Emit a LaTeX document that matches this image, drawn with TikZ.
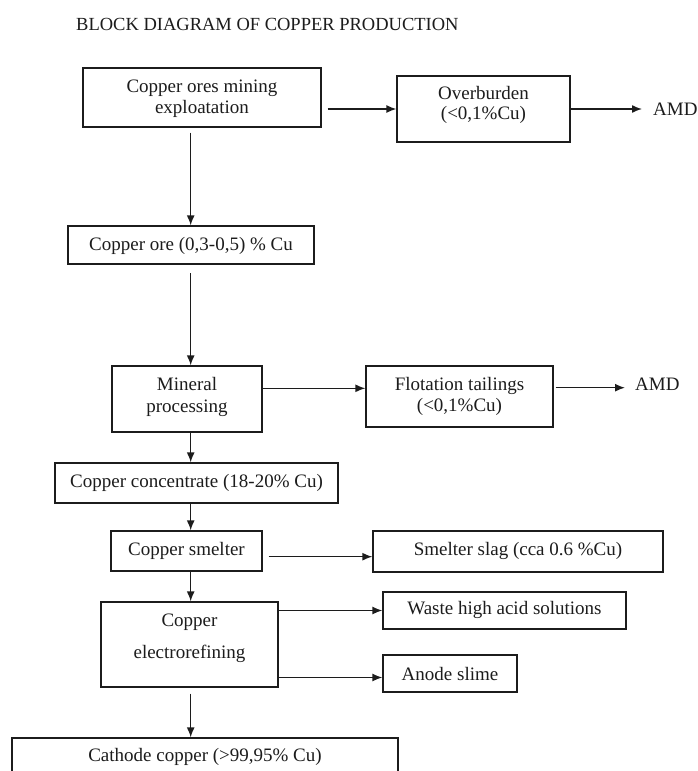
\documentclass[tikz,border=0pt]{standalone}
\usepackage{fontspec}
\setmainfont{Liberation Serif}
\usetikzlibrary{arrows.meta,calc}
\definecolor{ink}{HTML}{1C1C1C}
\begin{document}
\begin{tikzpicture}[x=1pt,y=-1pt,
  box/.style={draw=ink, line width=1.3pt, rectangle, inner sep=0pt},
  txt/.style={font=\fontsize{19}{21.5}\selectfont, text=ink, align=center, inner sep=0pt},
  arr/.style={draw=ink, line width=1.4pt, -{Latex[length=10pt,width=8pt]}}
]
\useasboundingbox (0,0) rectangle (698,771);
\clip (0,0) rectangle (698,771);
\fill[white] (0,0) rectangle (698,771);

\node[txt, font=\fontsize{18.5}{21}\selectfont, anchor=base west] (title) at (76,30.5) {BLOCK DIAGRAM OF COPPER PRODUCTION};

% boxes
\node[box, minimum width=238pt, minimum height=59pt] (mine) at (202,97.5) {};
\node[box, minimum width=173pt, minimum height=66pt] (over) at (483.5,109) {};
\node[box, minimum width=246pt, minimum height=38pt] (ore) at (191,245) {};
\node[box, minimum width=150pt, minimum height=66pt] (mineral) at (187,399) {};
\node[box, minimum width=187pt, minimum height=61pt] (flot) at (459.5,396.5) {};
\node[box, minimum width=283pt, minimum height=40pt] (conc) at (196.5,483) {};
\node[box, minimum width=151pt, minimum height=40pt] (smelter) at (186.5,551) {};
\node[box, minimum width=290pt, minimum height=41pt] (slag) at (518,551.5) {};
\node[box, minimum width=177pt, minimum height=85pt] (electro) at (189.5,644.5) {};
\node[box, minimum width=243pt, minimum height=37pt] (waste) at (504.5,610.5) {};
\node[box, minimum width=134pt, minimum height=37pt] (anode) at (450,673.5) {};
\node[box, minimum width=386pt, minimum height=42pt] (cathode) at (205,759) {};

% texts
\node[txt] (mine-t) at (202,98.5) {Copper ores mining\\exploatation};
\node[txt, font=\fontsize{19}{20}\selectfont] (over-t) at (483.5,105) {Overburden\\(<0,1\%Cu)};
\node[txt] (ore-t) at (191,245.5) {Copper ore (0,3-0,5) \% Cu};
\node[txt, font=\fontsize{19}{22}\selectfont] (mineral-t) at (187,397) {Mineral\\processing};
\node[txt] (flot-t) at (459.5,396.5) {Flotation tailings\\(<0,1\%Cu)};
\node[txt] (conc-t) at (196.5,482.5) {Copper concentrate (18-20\% Cu)};
\node[txt] (smelter-t) at (186.5,550.5) {Copper smelter};
\node[txt] (slag-t) at (518,550.5) {Smelter slag (cca 0.6 \%Cu)};
\node[txt, font=\fontsize{19}{32}\selectfont] (electro-t) at (189.5,638) {Copper\\electrorefining};
\node[txt] (waste-t) at (504.5,609.5) {Waste high acid solutions};
\node[txt] (anode-t) at (450,674) {Anode slime};
\node[txt] (cathode-t) at (205,757) {Cathode copper (>99,95\% Cu)};
\node[txt, anchor=west] (amd1) at (653,109) {AMD};
\node[txt, anchor=west] (amd2) at (635,384) {AMD};

% vertical spine
\coordinate (axis) at (190.7,0);

% connectors
\draw[arr] ($(mine.east |- over.west)+(6,0)$) -- (over.west);
\draw[arr] (over.east) -- ($(amd1.west)+(-11,0)$);
\draw[arr] ($(axis |- mine.south)+(0,5)$) -- (axis |- ore.north);
\draw[arr] ($(axis |- ore.south)+(0,8.5)$) -- (axis |- mineral.north);
\draw[arr] ($(mineral.east)+(0,-10.7)$) -- ($(mineral.east -| flot.west)+(0,-10.7)$);
\draw[arr] ($(flot.east)+(2,-8.8)$) -- ($(amd2.west)+(-10,3.7)$);
\draw[arr] (axis |- mineral.south) -- (axis |- conc.north);
\draw[arr] (axis |- conc.south) -- (axis |- smelter.north);
\draw[arr] ($(smelter.east)+(6,5.7)$) -- ($(smelter.east -| slag.west)+(0,5.7)$);
\draw[arr] (axis |- smelter.south) -- (axis |- electro.north);
\draw[arr] (electro.east |- waste.west) -- (waste.west);
\draw[arr] ($(electro.east |- anode.west)+(0,4)$) -- ($(anode.west)+(0,4)$);
\draw[arr] ($(axis |- electro.south)+(0,6)$) -- (axis |- cathode.north);
\end{tikzpicture}
\end{document}
